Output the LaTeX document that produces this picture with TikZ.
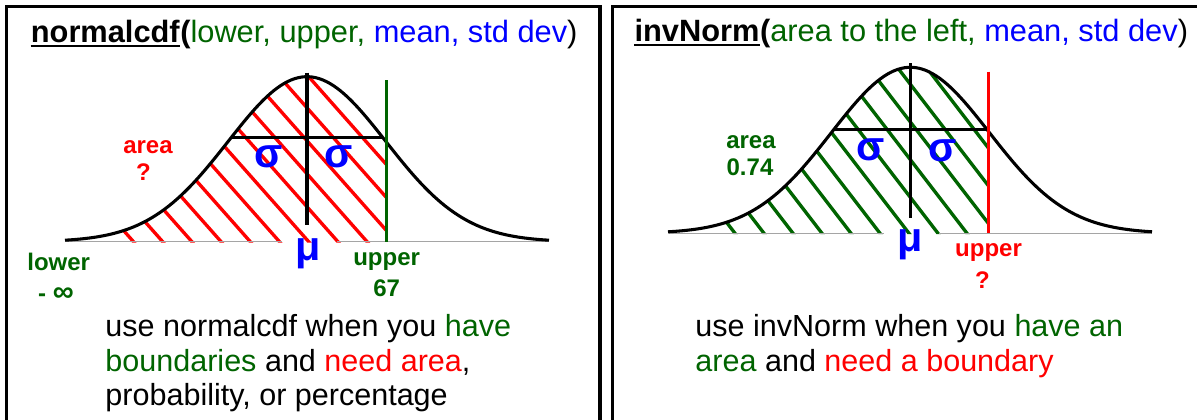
\documentclass[tikz,border=0pt]{standalone}
\usepackage{fontspec}
\setmainfont{Liberation Sans}
\definecolor{dgreen}{RGB}{0,100,0}
\definecolor{axisgray}{RGB}{165,165,165}
\begin{document}
\begin{tikzpicture}[x=0.75pt,y=-0.75pt,
  panel/.style={line width=2.5pt,draw=black},
  curve/.style={line width=2.3pt,black},
  axisline/.style={line width=1pt,axisgray},
  thick3/.style={line width=2.3pt},
  hatchline/.style={line width=2.5pt},
  titletext/.style={font=\fontsize{23.1}{27}\selectfont,inner sep=0pt,anchor=base west},
  bodytext/.style={font=\fontsize{22.9}{26}\selectfont,inner sep=0pt,anchor=base west},
  lbl/.style={font=\fontsize{18}{20}\selectfont\bfseries,inner sep=0pt,anchor=base},
  greek/.style={font=\fontsize{31}{33}\selectfont\bfseries,text=blue,inner sep=0pt}]
\useasboundingbox (0,0) rectangle (1197,419);
\fill[white] (0,0) rectangle (1197,419);
% panels
\draw[panel] (6.7,6.7) rectangle (600,450);
\draw[panel] (612.5,6.7) rectangle (1230,450);

% ---------------- left panel ----------------
\begin{scope}
\clip (112,242.5) -- plot[domain=112:386.7,samples=80] (\x,{241.7-165*exp(-0.5*((\x-307)/79)^2)}) -- (386.7,242.5) -- cycle;
\foreach \k in {0,...,11}
  \draw[hatchline,red] ({133.5+29.2*\k+20},{241.7+22.6}) -- ({133.5+29.2*\k-200},{241.7-226});
\end{scope}
\draw[axisline] (65,241.7) -- (282,241.7);
\draw[axisline] (337,241.7) -- (549,241.7);
\draw[curve] plot[domain=65:549,samples=140] (\x,{241.7-165*exp(-0.5*((\x-307)/79)^2)});
\draw[thick3,black] (307,72.7) -- (307,225);
\draw[thick3,black] (231.4,137.3) -- (382.6,137.3);
\draw[thick3,dgreen] (386.7,80) -- (386.7,241.7);

\node[greek] (sl1) at (268.3,156.7) {σ};
\node[greek] (sl2) at (338.3,156.7) {σ};
\node[greek] (ml) at (308,253.5) {μ};
\node[lbl,text=red] (areaL) at (148,153) {area};
\node[lbl,text=red] (qL) at (143.5,180) {?};
\node[lbl,text=dgreen] (lowerL) at (58.7,270) {lower};
\node[lbl,text=dgreen] (infL) at (56,301) {- {\fontsize{22}{24}\selectfont ∞}};
\node[lbl,text=dgreen] (upperL) at (386.6,265) {upper};
\node[lbl,text=dgreen] (sixty) at (386.6,296) {67};

\node[titletext] (tl1) at (30.6,42) {\bfseries normalcdf};
\node[titletext] (tl2) at (tl1.base east) {\bfseries (\mdseries\color{dgreen}lower, upper, \color{blue}mean, std dev\color{black})};
\draw[line width=1.6pt] ([yshift=-3.2pt]tl1.base west) -- ([yshift=-3.2pt]tl1.base east);

\node[bodytext] (bl1) at (105.2,336.7) {use normalcdf when you \textcolor{dgreen}{have}};
\node[bodytext] (bl2) at (105.2,371.7) {\textcolor{dgreen}{boundaries} and \textcolor{red}{need area},};
\node[bodytext] (bl3) at (105.2,405.5) {probability, or percentage};

% ---------------- right panel ----------------
\begin{scope}
\clip (712,234) -- plot[domain=712:988.4,samples=80] (\x,{233.3-166*exp(-0.5*((\x-910.4)/79)^2)}) -- (988.4,234) -- cycle;
\foreach \k in {0,...,11}
  \draw[hatchline,dgreen] ({735+29*\k+20},{233.3+26}) -- ({735+29*\k-180},{233.3-234});
\end{scope}
\draw[axisline] (668.5,233.3) -- (883.7,233.3);
\draw[axisline] (939,233.3) -- (1152,233.3);
\draw[curve] plot[domain=668:1152,samples=140] (\x,{233.3-166*exp(-0.5*((\x-910.4)/79)^2)});
\draw[thick3,black] (910.4,63.3) -- (910.4,218);
\draw[thick3,black] (833.7,129.3) -- (987,129.3);
\draw[thick3,red] (988.4,71.7) -- (988.4,233.3);

\node[greek] (sr1) at (870.4,150) {σ};
\node[greek] (sr2) at (942.7,151) {σ};
\node[greek] (mr) at (910.5,245) {μ};
\node[lbl,text=dgreen] (areaR) at (751,148) {area};
\node[lbl,text=dgreen] (valR) at (750,175) {0.74};
\node[lbl,text=red] (upperR) at (988.5,256) {upper};
\node[lbl,text=red] (qR) at (982.5,288) {?};

\node[titletext] (tr1) at (634.3,41) {\bfseries invNorm};
\node[titletext] (tr2) at (tr1.base east) {\bfseries (\mdseries\color{dgreen}area to the left, \color{blue}mean, std dev\color{black})};
\draw[line width=1.6pt] ([yshift=-3.2pt]tr1.base west) -- ([yshift=-3.2pt]tr1.base east);

\node[bodytext] (br1) at (695.2,336.7) {use invNorm when you \textcolor{dgreen}{have an}};
\node[bodytext] (br2) at (695.2,371.7) {\textcolor{dgreen}{area} and \textcolor{red}{need a boundary}};
\end{tikzpicture}
\end{document}
